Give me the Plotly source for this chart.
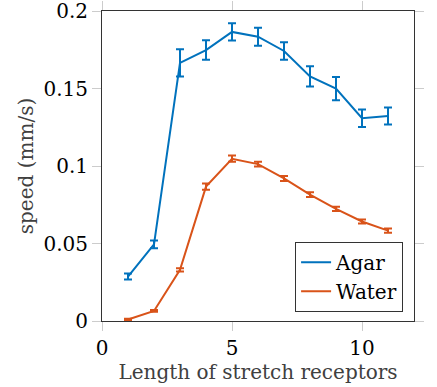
import plotly.graph_objects as go

# receptor lengths
length = [1, 2, 3, 4, 5, 6, 7, 8, 9, 10, 11]

# mean speed (mm/s) and error
agar_speed = [0.0287, 0.0495, 0.1665, 0.1748, 0.1865, 0.1834, 0.1742, 0.1578, 0.1500, 0.1308, 0.1323]
agar_err = [0.0020, 0.0025, 0.0088, 0.0063, 0.0056, 0.0058, 0.0057, 0.0065, 0.0075, 0.0056, 0.0055]
water_speed = [0.0010, 0.0065, 0.0330, 0.0867, 0.1047, 0.1012, 0.0920, 0.0815, 0.0723, 0.0642, 0.0583]
water_err = [0.0005, 0.0006, 0.0010, 0.0020, 0.0020, 0.0016, 0.0016, 0.0015, 0.0014, 0.0013, 0.0014]

FONT = "'DejaVu Serif', 'Liberation Serif', 'Times New Roman', serif"

fig = go.Figure()
fig.add_trace(go.Scatter(x=length, y=agar_speed, mode='lines', name='Agar',
                         line=dict(color='#0072BD', width=2),
                         error_y=dict(type='data', array=agar_err, color='#0072BD', thickness=2, width=4)))
fig.add_trace(go.Scatter(x=length, y=water_speed, mode='lines', name='Water',
                         line=dict(color='#D95319', width=2),
                         error_y=dict(type='data', array=water_err, color='#D95319', thickness=2, width=4)))

axis_style = dict(showgrid=False, zeroline=False, showline=True, linecolor='#333333', linewidth=1,
                  mirror='ticks', ticks='outside', ticklen=9, tickcolor='#cccccc', tickwidth=1,
                  automargin=False, ticklabeloverflow='allow',
                  tickfont=dict(family=FONT, size=20, color='black'))

fig.update_layout(
    width=437, height=387,
    margin=dict(l=102, r=23, t=11, b=66),
    plot_bgcolor='white', paper_bgcolor='white',
    font=dict(family=FONT),
    xaxis=dict(range=[0, 12], tickvals=[0, 5, 10], ticktext=['0', '5', '10'],
               title=dict(text='Length of stretch receptors', standoff=0,
                          font=dict(family=FONT, size=20, color='#404040')), **axis_style),
    yaxis=dict(range=[0, 0.2], tickvals=[0, 0.05, 0.1, 0.15, 0.2],
               ticktext=['0', '0.05', '0.1', '0.15', '0.2'],
               title=dict(text='speed (mm/s)', standoff=4,
                          font=dict(family=FONT, size=20, color='#404040')), **axis_style),
    legend=dict(x=0.965, y=0.03, xanchor='right', yanchor='bottom',
                bordercolor='#333333', borderwidth=1, bgcolor='white',
                font=dict(family=FONT, size=20, color='black')),
)

fig.write_html("out.html", config={'displayModeBar': False},
               post_script="document.body.style.margin='0px';")
